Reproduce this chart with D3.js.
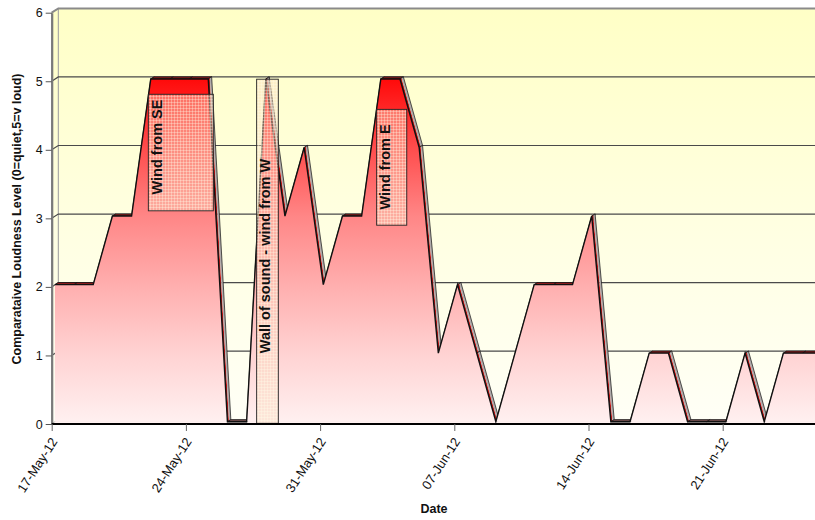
<!DOCTYPE html>
<html><head><meta charset="utf-8">
<script src="https://cdn.jsdelivr.net/npm/d3@7"></script>
<style>body{margin:0;background:#fff}svg{display:block}text{font-family:"Liberation Sans",Arial,sans-serif}</style>
</head><body><svg id="c" width="815" height="520"></svg>
<script>
// ---- data ----
const dates = ["2012-05-17","2012-05-18","2012-05-19","2012-05-20","2012-05-21","2012-05-22","2012-05-23",
"2012-05-24","2012-05-25","2012-05-26","2012-05-27","2012-05-28","2012-05-29","2012-05-30",
"2012-05-31","2012-06-01","2012-06-02","2012-06-03","2012-06-04","2012-06-05","2012-06-06",
"2012-06-07","2012-06-08","2012-06-09","2012-06-10","2012-06-11","2012-06-12","2012-06-13",
"2012-06-14","2012-06-15","2012-06-16","2012-06-17","2012-06-18","2012-06-19","2012-06-20",
"2012-06-21","2012-06-22","2012-06-23","2012-06-24","2012-06-25","2012-06-26"];
const loudness = [2,2,2,3,3,5,5,5,5,0,0,5,3,4,2,3,3,5,5,4,1,2,1,0,1,2,2,2,3,0,0,1,1,0,0,0,1,0,1,1,1];
const yTicks = [0,1,2,3,4,5,6];
const xTickDates = ["2012-05-17","2012-05-24","2012-05-31","2012-06-07","2012-06-14","2012-06-21"];
const noteLabels = ["Wind from SE","Wall of sound - wind from W","Wind from E"];
const noteDayStart = [5.04, 10.69, 16.95];
const noteDayEnd = [8.43, 11.82, 18.52];
const noteTop = [4.81, 5.03, 4.59];
const noteBottom = [3.11, 0.01, 2.90];
const noteTextCenter = [4.04, 2.45, 3.75];

// ---- setup ----
const parse = d3.timeParse("%Y-%m-%d");
const fmt = d3.timeFormat("%d-%b-%y");
const pts = dates.map((d,i)=>({date:parse(d), v:loudness[i]}));
const svg = d3.select("#c");
const W = 815;
const x = d3.scaleTime().domain([parse("2012-05-17"), parse("2012-06-21")]).range([51.7, 722.7]);
const y = d3.scaleLinear().domain([0,6]).range([424, 12.7]);
const DX = 6.6, DY = -4.3;     // wall depth
const FX = 3.2, FY = -2.3;     // series front plane offset
const SX = 3.4, SY = -2.1;     // series slab depth
const x0 = x.range()[0];

const defs = svg.append("defs");
const wg = defs.append("linearGradient").attr("id","wall").attr("gradientUnits","userSpaceOnUse")
  .attr("x1",0).attr("x2",0).attr("y1",y(6)+DY).attr("y2",y(0)+DY);
wg.append("stop").attr("offset",0).attr("stop-color","#ffffc6");
wg.append("stop").attr("offset",0.5).attr("stop-color","#ffffe0");
wg.append("stop").attr("offset",1).attr("stop-color","#fffff6");
const ag = defs.append("linearGradient").attr("id","areaG").attr("gradientUnits","userSpaceOnUse")
  .attr("x1",0).attr("x2",0).attr("y1",y(5)+FY).attr("y2",y(0)+FY);
[[0,"#ff0a0a"],[0.2,"#ff4c4c"],[0.4,"#ff8686"],[0.6,"#ffaeae"],[0.8,"#ffd2d2"],[1,"#fff0f0"]]
  .forEach(s=>ag.append("stop").attr("offset",s[0]).attr("stop-color",s[1]));
const pat = defs.append("pattern").attr("id","grid").attr("patternUnits","userSpaceOnUse")
  .attr("width",3).attr("height",3);
pat.append("rect").attr("width",3).attr("height",3).attr("fill","rgba(250,220,190,0.45)");
pat.append("path").attr("d","M0,0.5H3M0.5,0V3").attr("stroke","rgba(255,255,236,0.32)").attr("stroke-width",1);

// back wall
svg.append("rect").attr("x",x0+DX).attr("y",y(6)+DY).attr("width",W-(x0+DX)).attr("height",y(0)-y(6))
  .attr("fill","url(#wall)");
// side wall
svg.append("path").attr("d",`M${x0},${y(6)}L${x0+DX},${y(6)+DY}L${x0+DX},${y(0)+DY}L${x0},${y(0)}Z`)
  .attr("fill","url(#wall)").attr("stroke","#9a9a9a").attr("stroke-width",1);
// top border of wall
svg.append("path").attr("d",`M${x0},${y(6)}L${x0+DX},${y(6)+DY}H${W}`).attr("fill","none")
  .attr("stroke","#8a8a8a").attr("stroke-width",2);
// gridlines
yTicks.filter(t=>t>0 && t<6).forEach(t=>{
  svg.append("path").attr("d",`M${x0},${y(t)}L${x0+DX},${y(t)+DY}H${W}`).attr("fill","none")
    .attr("stroke","#4a4a4a").attr("stroke-width",1.2);
});
// floor
svg.append("path").attr("d",`M${x0},${y(0)}L${x0+DX},${y(0)+DY}H${W}V${y(0)}Z`).attr("fill","#ece6e0");

const px = d=>x(d.date)+FX, py = d=>y(d.v)+FY;
// strip under front face down to the axis
svg.append("rect").attr("x",px(pts[0])).attr("y",y(0)+FY).attr("width",W).attr("height",-FY)
  .attr("fill","#fff0f0");
// top surfaces
const tops = svg.append("g");
for(let i=0;i<pts.length-1;i++){
  const ax=px(pts[i]), ay=py(pts[i]), bx=px(pts[i+1]), by=py(pts[i+1]);
  const quad=(f0,f1)=>`M${ax+SX*f0},${ay+SY*f0}L${bx+SX*f0},${by+SY*f0}L${bx+SX*f1},${by+SY*f1}L${ax+SX*f1},${ay+SY*f1}Z`;
  if(by>ay){
    tops.append("path").attr("d",quad(0,0.45)).attr("fill","#cc1414");
    tops.append("path").attr("d",quad(0.45,1)).attr("fill","#b0aaaa");
    tops.append("path").attr("d",quad(0,1)).attr("fill","none").attr("stroke","#111").attr("stroke-width",0.7);
  } else {
    tops.append("path").attr("d",quad(0,1)).attr("fill", pts[i].v===0 ? "#6e4a4a" : "#8a1c1c")
      .attr("stroke","#111").attr("stroke-width",0.7).attr("stroke-linejoin","round");
  }
}
// front face
svg.append("path").datum(pts)
  .attr("d", d3.area().x(px).y0(y(0)+FY).y1(py))
  .attr("fill","url(#areaG)");
svg.append("path").datum(pts)
  .attr("d", d3.line().x(px).y(py))
  .attr("fill","none").attr("stroke","#111").attr("stroke-width",1.4).attr("stroke-linejoin","miter");

// annotation boxes
const start = parse(dates[0]);
const dx = d=>x(d3.timeMinute.offset(start, Math.round(d*1440)));
noteLabels.forEach((lab,i)=>{
  const bx0=dx(noteDayStart[i]), bx1=dx(noteDayEnd[i]), by0=y(noteTop[i]), by1=y(noteBottom[i]);
  svg.append("rect").attr("x",bx0).attr("y",by0).attr("width",bx1-bx0).attr("height",by1-by0)
    .attr("fill","url(#grid)").attr("stroke","#222").attr("stroke-width",0.9);
  svg.append("text").attr("transform",`translate(${bx0+13.8},${y(noteTextCenter[i])}) rotate(-90)`)
    .attr("text-anchor","middle").attr("font-size",14.5).attr("font-weight","bold").attr("fill","#111")
    .text(lab);
});

// axes
const ya = svg.append("g").attr("transform",`translate(${x0},0)`)
  .call(d3.axisLeft(y).tickValues(yTicks).tickFormat(d3.format("d")).tickSize(6).tickSizeOuter(0).tickPadding(3));
ya.select(".domain").attr("stroke","#7a7a7a").attr("stroke-width",2.2);
ya.selectAll(".tick line").attr("stroke","#555");
ya.selectAll("text").attr("font-size",12.5).attr("fill","#111").style("font-family",'"Liberation Sans",Arial,sans-serif');

const xa = svg.append("g").attr("transform",`translate(0,${y(0)})`)
  .call(d3.axisBottom(x).tickValues(xTickDates.map(parse)).tickFormat(fmt).tickSize(7).tickSizeOuter(0));
xa.select(".domain").attr("d",`M${x0},0H${W}`).attr("stroke","#000").attr("stroke-width",2.2);
xa.selectAll(".tick line").attr("stroke","#666");
xa.selectAll("text").attr("font-size",13).attr("fill","#111")
  .style("font-family",'"Liberation Sans",Arial,sans-serif')
  .attr("text-anchor","end").attr("x",0).attr("y",0).attr("dy","0.35em")
  .attr("transform","translate(2,15) rotate(-57)");

svg.append("text").attr("transform",`translate(20.8,219) rotate(-90)`)
  .attr("text-anchor","middle").attr("font-size",12.5).attr("font-weight","bold").attr("fill","#111")
  .text("Comparataive Loudness Level (0=quiet,5=v loud)");
svg.append("text").attr("x",434).attr("y",513).attr("text-anchor","middle")
  .attr("font-size",12.5).attr("font-weight","bold").attr("fill","#111").text("Date");
</script></body></html>
